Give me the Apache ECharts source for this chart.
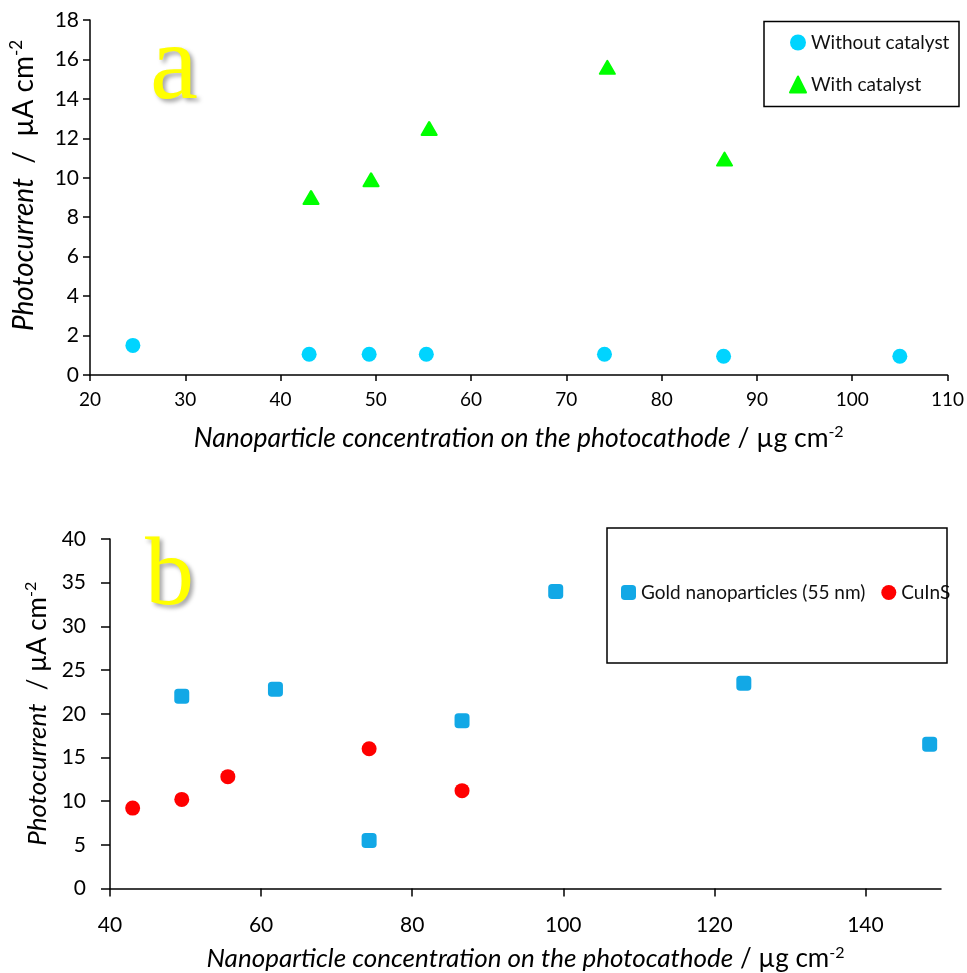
<!DOCTYPE html>
<html>
<head>
<meta charset="utf-8">
<title>Photocurrent vs nanoparticle concentration</title>
<script src="https://cdn.jsdelivr.net/npm/echarts@6/dist/echarts.min.js"></script>
<style>
  html, body { margin: 0; padding: 0; background: #fff; }
  #chart { width: 967px; height: 973px; }
</style>
</head>
<body>
<div id="chart"></div>
<script>
// Panel a: photocurrent with and without catalyst
const concWithout = [24.5, 43.0, 49.3, 55.3, 74.0, 86.5, 105.0];
const currentWithout = [1.5, 1.05, 1.05, 1.05, 1.05, 0.95, 0.95];
const concWith = [43.2, 49.5, 55.6, 74.3, 86.6];
const currentWith = [9.0, 9.9, 12.5, 15.6, 10.95];

// Panel b: gold nanoparticles vs CuInS
const concGold = [49.5, 61.9, 74.3, 86.6, 99.0, 123.9, 148.5];
const currentGold = [22.0, 22.8, 5.5, 19.2, 34.0, 23.5, 16.5];
const concCuInS = [43.0, 49.5, 55.6, 74.3, 86.6];
const currentCuInS = [9.2, 10.2, 12.8, 16.0, 11.2];

// Axis tick labels
const xTicksA = [20, 30, 40, 50, 60, 70, 80, 90, 100, 110];
const yTicksA = [0, 2, 4, 6, 8, 10, 12, 14, 16, 18];
const xTicksB = [40, 60, 80, 100, 120, 140];
const yTicksB = [0, 5, 10, 15, 20, 25, 30, 35, 40];

const seriesNames = ['Without catalyst', 'With catalyst', 'Gold nanoparticles (55 nm)', 'CuInS'];
const panelLetters = ['a', 'b'];

const FONT = 'Lato, "Open Sans", sans-serif';
const SERIF = '"Liberation Serif", "DejaVu Serif", serif';
const zip = (xs, ys) => xs.map((x, i) => [x, ys[i]]);

const axisLineStyle = { show: true, lineStyle: { color: '#000', width: 1.5 } };
const tick = (len) => ({ show: true, inside: false, length: len, lineStyle: { color: '#000', width: 1.5 } });

function nameRich(size) {
  return {
    it: { fontStyle: 'italic', fontSize: size, fontFamily: FONT, color: '#000' },
    n: { fontSize: size, fontFamily: FONT, color: '#000' },
    sup: { fontSize: Math.round(size * 0.62), fontFamily: FONT, color: '#000', verticalAlign: 'top', padding: [0, 0, Math.round(size * 0.5), 0] }
  };
}
const xName = '{it|Nanoparticle concentration on the photocathode}{n| / µg cm}{sup|-2}';
const yNameA = '{it|Photocurrent}{n|  /  µA cm}{sup|-2}';
const yNameB = '{it|Photocurrent}{n|  / µA cm}{sup|-2}';

const chart = echarts.init(document.getElementById('chart'), null, { renderer: 'canvas' });

chart.setOption({
  backgroundColor: '#fff',
  animation: false,
  textStyle: { fontFamily: FONT },
  grid: [
    { left: 89, right: 16, top: 20, bottom: 598, containLabel: false },
    { left: 110, right: 26, top: 539, bottom: 82, containLabel: false }
  ],
  xAxis: [
    {
      gridIndex: 0, type: 'value',
      min: xTicksA[0], max: xTicksA[xTicksA.length - 1], interval: 10,
      axisLine: axisLineStyle, axisTick: tick(6), splitLine: { show: false },
      axisLabel: { fontSize: 19, color: '#000', margin: 15, fontFamily: FONT },
      name: xName, nameLocation: 'middle', nameGap: 49,
      nameTextStyle: { rich: nameRich(26.5) }
    },
    {
      gridIndex: 1, type: 'value',
      min: xTicksB[0], max: 150, interval: 20,
      axisLine: axisLineStyle,
      axisTick: Object.assign(tick(8), { customValues: xTicksB }),
      splitLine: { show: false },
      axisLabel: { fontSize: 21, color: '#000', margin: 26, fontFamily: FONT, customValues: xTicksB },
      name: xName, nameLocation: 'middle', nameGap: 56,
      nameTextStyle: { rich: nameRich(26) }
    }
  ],
  yAxis: [
    {
      gridIndex: 0, type: 'value',
      min: yTicksA[0], max: yTicksA[yTicksA.length - 1], interval: 2,
      axisLine: axisLineStyle, axisTick: tick(7), splitLine: { show: false },
      axisLabel: { fontSize: 21, color: '#000', margin: 11, fontFamily: FONT },
      name: yNameA, nameLocation: 'middle', nameGap: 51, nameRotate: 90,
      nameTextStyle: { rich: nameRich(28), padding: [0, 0, 0, 24] }
    },
    {
      gridIndex: 1, type: 'value',
      min: yTicksB[0], max: yTicksB[yTicksB.length - 1], interval: 5,
      axisLine: axisLineStyle, axisTick: tick(9), splitLine: { show: false },
      axisLabel: { fontSize: 21, color: '#000', margin: 24, fontFamily: FONT },
      name: yNameB, nameLocation: 'middle', nameGap: 54, nameRotate: 90,
      nameTextStyle: { rich: nameRich(26) }
    }
  ],
  legend: [
    {
      data: [
        { name: seriesNames[0], icon: 'circle' },
        { name: seriesNames[1], icon: 'triangle' }
      ],
      orient: 'vertical', left: 784, top: 28,
      itemWidth: 16, itemHeight: 16, itemGap: 23,
      textStyle: { fontSize: 19, color: '#111', fontFamily: FONT }
    },
    {
      data: [
        { name: seriesNames[2], icon: 'roundRect' },
        { name: seriesNames[3], icon: 'circle' }
      ],
      orient: 'horizontal', left: 616, top: 578,
      itemWidth: 15, itemHeight: 15, itemGap: 16,
      textStyle: { fontSize: 19, color: '#111', fontFamily: FONT }
    }
  ],
  graphic: [
    // legend frames
    { type: 'rect', shape: { x: 764, y: 21.5, width: 195, height: 85 },
      style: { fill: 'none', stroke: '#000', lineWidth: 1.5 }, z: 10 },
    { type: 'rect', shape: { x: 607, y: 528, width: 340, height: 135 },
      style: { fill: 'none', stroke: '#000', lineWidth: 1.5 }, z: 10 },
    // panel letters
    { type: 'text', x: 150, y: 16, z: 20,
      style: { text: panelLetters[0], fontFamily: SERIF, fontSize: 108,
        fill: '#ffff00', textShadowColor: 'rgba(0,0,0,0.35)',
        textShadowBlur: 4, textShadowOffsetX: 3, textShadowOffsetY: 3 } },
    { type: 'text', x: 145, y: 529, z: 20,
      style: { text: panelLetters[1], fontFamily: SERIF, fontSize: 98,
        fill: '#ffff00', textShadowColor: 'rgba(0,0,0,0.35)',
        textShadowBlur: 4, textShadowOffsetX: 3, textShadowOffsetY: 3 } }
  ],
  series: [
    {
      name: seriesNames[0], type: 'scatter', xAxisIndex: 0, yAxisIndex: 0,
      symbol: 'circle', symbolSize: 15, itemStyle: { color: '#00d4ff', opacity: 1 },
      data: zip(concWithout, currentWithout)
    },
    {
      name: seriesNames[1], type: 'scatter', xAxisIndex: 0, yAxisIndex: 0,
      symbol: 'triangle', symbolSize: [15, 13],
      itemStyle: { color: '#00ff00', opacity: 1, borderColor: '#00ff00', borderWidth: 2, borderJoin: 'round' },
      data: zip(concWith, currentWith)
    },
    {
      name: seriesNames[2], type: 'scatter', xAxisIndex: 1, yAxisIndex: 1,
      symbol: 'roundRect', symbolSize: 15, itemStyle: { color: '#12a8e6', opacity: 1 },
      data: zip(concGold, currentGold)
    },
    {
      name: seriesNames[3], type: 'scatter', xAxisIndex: 1, yAxisIndex: 1,
      symbol: 'circle', symbolSize: 15, itemStyle: { color: '#ff0000', opacity: 1 },
      data: zip(concCuInS, currentCuInS)
    }
  ]
});
</script>
</body>
</html>
